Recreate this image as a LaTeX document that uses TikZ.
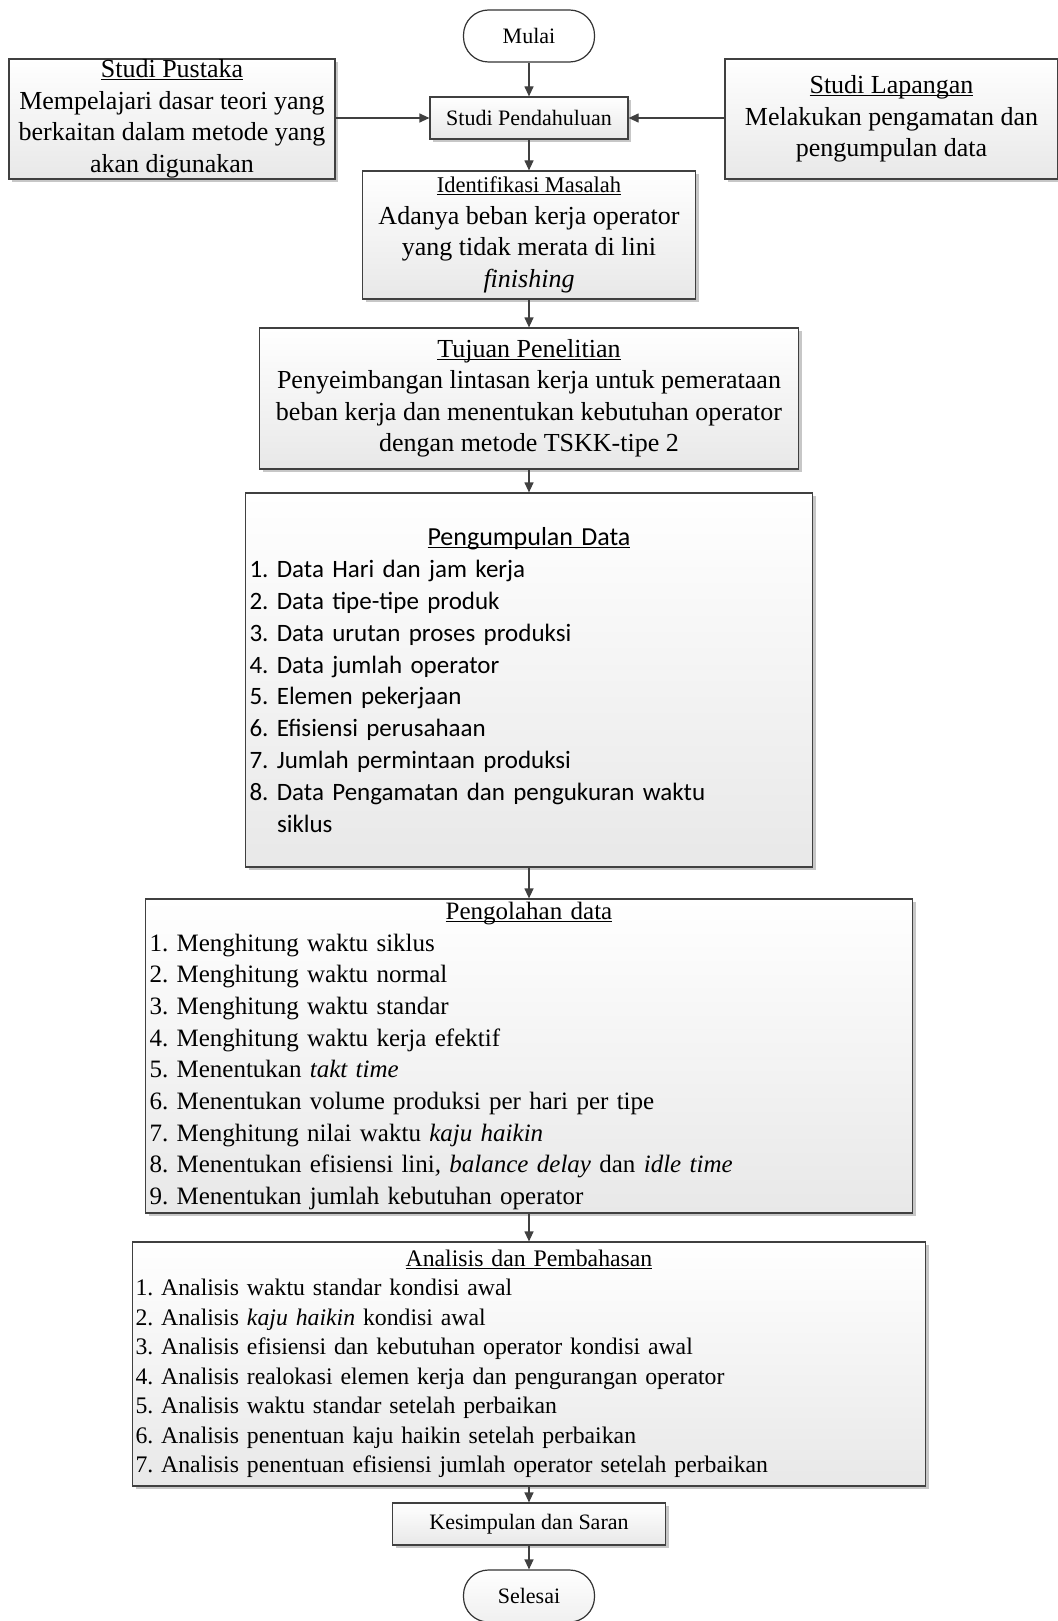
\documentclass[tikz,border=0pt]{standalone}
\usepackage{fontspec}
\setmainfont{Liberation Serif}
\newfontfamily\calibrifont{Carlito}
\frenchspacing
\usetikzlibrary{arrows.meta,shadows}

\newcommand{\boxtop}{white}
\newcommand{\boxbottom}{black!9}
\newcommand{\linecol}{black!75}
\newcommand{\headul}[1]{\leavevmode\rlap{\underline{\smash{#1}}}\phantom{#1}}
\newcommand{\bigtxt}{\fontsize{26}{31.5}\selectfont}
\newcommand{\midtxt}{\fontsize{23.75}{29.5}\selectfont}
\newcommand{\smalltxt}{\fontsize{22}{26}\selectfont}
\tikzset{every path/.style={line width=1.2pt},
  flowbox/.style={draw=\linecol, top color=\boxtop, bottom color=\boxbottom,
    drop shadow={shadow xshift=3pt, shadow yshift=-3pt, fill=black!22, opacity=1},
    inner sep=0pt, align=center},
  terminal/.style={draw=black!80, rounded corners=25pt, inner sep=0pt,
    minimum width=131pt, minimum height=52pt, font=\smalltxt},
  arr/.style={draw=\linecol, -{Triangle[length=10pt,width=9pt]}}}

\begin{document}
\begin{tikzpicture}[x=1pt,y=-1pt]
\useasboundingbox (0,0) rectangle (1057,1621);

%top row
\node[terminal, fill=white] (mulai) at (529,36) {Mulai};
\node[flowbox, minimum width=198pt, minimum height=42pt, font=\smalltxt] (pend) at (529,118) {Studi Pendahuluan};
\node[flowbox, minimum width=326pt, minimum height=120pt, font=\bigtxt] (pustaka) at (172,119)
  {\headul{Studi Pustaka}\\Mempelajari dasar teori yang\\berkaitan dalam metode yang\\akan digunakan};
\node[flowbox, minimum width=333pt, minimum height=120pt, font=\bigtxt] (lapangan) at (891.5,119)
  {\headul{Studi Lapangan}\\Melakukan pengamatan dan\\pengumpulan data};

%middle
\node[flowbox, minimum width=333pt, minimum height=128pt, font=\bigtxt] (identifikasi) at (529,235)
  {{\fontsize{22.5}{26}\selectfont\headul{Identifikasi Masalah}}\\Adanya beban kerja operator\\yang tidak merata di lini\\\textit{finishing}};
\node[flowbox, minimum width=539pt, minimum height=141pt, font=\bigtxt] (tujuan) at (529,398.5)
  {\headul{Tujuan Penelitian}\\Penyeimbangan lintasan kerja untuk pemerataan\\beban kerja dan menentukan kebutuhan operator\\dengan metode TSKK-tipe 2};
\node[flowbox, inner xsep=4pt, text width=559pt, minimum height=374pt, align=left,
  font=\calibrifont\fontsize{25}{31.8}\selectfont] (kumpul) at (529,680)
  {\hfill{\bigtxt\headul{Pengumpulan Data}}\hfill\null\\1. Data Hari dan jam kerja\\2. Data tipe-tipe produk\\3. Data urutan proses produksi\\4. Data jumlah operator\\5. Elemen pekerjaan\\6. Efisiensi perusahaan\\7. Jumlah permintaan produksi\\8. Data Pengamatan dan pengukuran waktu\\\hspace*{1.1em}siklus};
\node[flowbox, inner xsep=4pt, text width=759pt, minimum height=314pt, align=left,
  font=\fontsize{25}{31.7}\selectfont] (olah) at (529,1056)
  {\hfill\headul{Pengolahan data}\hfill\null\\1. Menghitung waktu siklus\\2. Menghitung waktu normal\\3. Menghitung waktu standar\\4. Menghitung waktu kerja efektif\\5. Menentukan \textit{takt time}\\6. Menentukan volume produksi per hari per tipe\\7. Menghitung nilai waktu \textit{kaju haikin}\\8. Menentukan efisiensi lini\textit{, balance delay} dan \textit{idle time}\\9. Menentukan jumlah kebutuhan operator};
\node[flowbox, inner xsep=3pt, text width=787pt, minimum height=244pt, align=left, font=\midtxt] (analisis) at (529,1364)
  {\hfill\headul{Analisis dan Pembahasan}\hfill\null\\1. Analisis waktu standar kondisi awal\\2. Analisis \textit{kaju haikin} kondisi awal\\3. Analisis efisiensi dan kebutuhan operator kondisi awal\\4. Analisis realokasi elemen kerja dan pengurangan operator\\5. Analisis waktu standar setelah perbaikan\\6. Analisis penentuan kaju haikin setelah perbaikan\\7. Analisis penentuan efisiensi jumlah operator setelah perbaikan};

%bottom
\node[flowbox, minimum width=273pt, minimum height=42pt, font=\fontsize{22}{26}\selectfont] (simpul) at (529,1524) {Kesimpulan dan Saran};
\node[terminal, top color=white, bottom color=black!6] (selesai) at (529,1596) {Selesai};

\draw[arr] (mulai) -- (pend);
\draw[arr] (pustaka.east |- pend) -- (pend);
\draw[arr] (lapangan.west |- pend) -- (pend);
\draw[arr] (pend) -- (identifikasi);
\draw[arr] (identifikasi) -- (tujuan);
\draw[arr] (tujuan) -- (kumpul);
\draw[arr] (kumpul) -- (olah);
\draw[arr] (olah) -- (analisis);
\draw[arr] (analisis) -- (simpul);
\draw[arr] (simpul) -- (selesai);
\end{tikzpicture}
\end{document}
